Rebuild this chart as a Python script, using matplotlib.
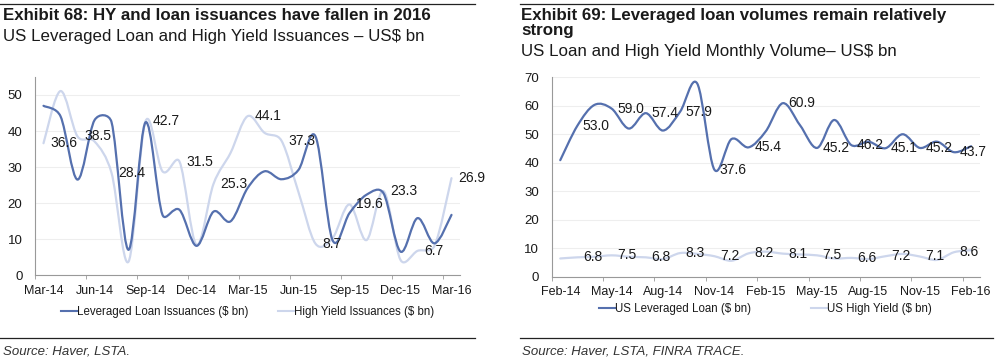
import numpy as np
import matplotlib.pyplot as plt
from matplotlib.path import Path
from matplotlib.patches import PathPatch
from matplotlib.lines import Line2D

plt.rcParams['font.family'] = ['Liberation Sans', 'DejaVu Sans']

DARK = '#5570ae'
LIGHT = '#cdd6ec'
TXT = '#1a1a1a'

# Exhibit 68 (monthly, Mar-14 .. Mar-16)
ticks68 = ['Mar-14', 'Jun-14', 'Sep-14', 'Dec-14', 'Mar-15', 'Jun-15', 'Sep-15', 'Dec-15', 'Mar-16']
loan68 = [47.0, 44.1, 26.5, 43.0, 42.5, 7.0, 42.4, 16.7, 18.1, 8.1, 17.6, 14.9, 24.1,
          28.8, 26.6, 29.2, 38.5, 9.7, 17.2, 22.3, 22.7, 6.5, 15.8, 8.8, 16.7]
hy68 = [36.6, 51.1, 38.5, 37.1, 28.4, 3.7, 42.7, 28.8, 31.5, 8.4, 25.3, 33.9, 44.1,
        39.5, 37.3, 23.0, 8.7, 10.2, 19.6, 9.7, 23.3, 4.2, 6.7, 8.1, 26.9]

# Exhibit 69 (monthly, Feb-14 .. Feb-16)
ticks69 = ['Feb-14', 'May-14', 'Aug-14', 'Nov-14', 'Feb-15', 'May-15', 'Aug-15', 'Nov-15', 'Feb-16']
loan69 = [40.9, 53.0, 60.3, 59.0, 52.0, 57.4, 51.3, 57.9, 67.8, 37.6, 48.3, 45.4, 51.0,
          60.9, 53.2, 45.2, 55.0, 46.2, 47.4, 45.1, 50.0, 45.2, 47.4, 43.7, 45.8]
hy69 = [6.4, 6.8, 7.0, 7.5, 7.0, 6.8, 6.2, 8.3, 8.0, 7.2, 5.6, 8.2, 8.8,
        8.1, 7.8, 7.5, 6.4, 6.6, 6.2, 7.2, 8.0, 7.1, 5.9, 8.6, 9.3]


def smooth_line(ax, y, color, lw):
    # Excel-style smoothed line: cubic Bezier segments through the points,
    # control arms built in screen space and capped so steep neighbours don't overshoot
    y = np.asarray(y, float)
    x = np.arange(len(y), dtype=float)
    tr = ax.transData
    p = tr.transform(np.column_stack([x, y]))
    n = len(p)
    verts = [p[0]]
    codes = [Path.MOVETO]
    for i in range(n - 1):
        p0 = p[i - 1] if i > 0 else p[i]
        p3 = p[i + 2] if i + 2 < n else p[i + 1]
        seg = np.hypot(*(p[i + 1] - p[i]))
        a1 = (p[i + 1] - p0) / 6.0
        a2 = (p3 - p[i]) / 6.0
        for a in (a1, a2):
            la = np.hypot(*a)
            if la > 0.5 * seg:
                a *= 0.5 * seg / la
        verts += [p[i] + a1, p[i + 1] - a2, p[i + 1]]
        codes += [Path.CURVE4] * 3
    verts = tr.inverted().transform(np.array(verts))
    ax.add_patch(PathPatch(Path(verts, codes), fc='none', ec=color, lw=lw,
                           capstyle='round', joinstyle='round'))


def style_axes(ax, ymax, ystep, ticks):
    n = 25
    ax.set_xlim(-0.5, n - 0.5)
    ax.set_ylim(0, ymax)
    ax.set_yticks(np.arange(0, ymax + 1, ystep))
    ax.set_xticks(np.arange(0, n, 3))
    ax.set_xticklabels(ticks)
    ax.set_xticks(np.arange(-0.5, n, 3), minor=True)
    ax.tick_params(axis='x', which='major', length=0, pad=7, labelsize=9, labelcolor=TXT)
    ax.tick_params(axis='x', which='minor', length=3, color='#999999', direction='out')
    ax.tick_params(axis='y', length=0, pad=9, labelsize=9.5, labelcolor=TXT)
    for s in ['top', 'right']:
        ax.spines[s].set_visible(False)
    for s in ['left', 'bottom']:
        ax.spines[s].set_color('#999999')
        ax.spines[s].set_linewidth(0.8)
    ax.grid(axis='y', color='#eeeeee', lw=0.8)
    ax.set_axisbelow(True)


fig = plt.figure(figsize=(10, 3.62), dpi=100)

# ---- left chart
ax1 = fig.add_axes([0.035, 0.2403, 0.425, 0.547])
style_axes(ax1, 55, 10, ticks68)
smooth_line(ax1, hy68, LIGHT, 1.6)
smooth_line(ax1, loan68, DARK, 1.6)
for i in range(0, 25, 2):
    ax1.annotate(f'{hy68[i]:.1f}', (i, hy68[i]), xytext=(5, 0), textcoords='offset points',
                 ha='left', va='center', fontsize=10, color=TXT)

h1 = [Line2D([], [], color=DARK, lw=1.5), Line2D([], [], color=LIGHT, lw=1.5)]
ax1.legend(h1, ['Leveraged Loan Issuances ($ bn)', 'High Yield Issuances ($ bn)'],
           loc='upper center', bbox_to_anchor=(0.5, -0.105), ncol=2, frameon=False,
           handlelength=1.4, handletextpad=0.0, columnspacing=2.6, fontsize=8.3,
           labelcolor=TXT)

# ---- right chart
ax2 = fig.add_axes([0.5517, 0.2356, 0.428, 0.551])
style_axes(ax2, 70, 10, ticks69)
smooth_line(ax2, hy69, LIGHT, 1.6)
smooth_line(ax2, loan69, DARK, 1.6)
for i in range(1, 25, 2):
    ax2.annotate(f'{loan69[i]:.1f}', (i, loan69[i]), xytext=(4, 0), textcoords='offset points',
                 ha='left', va='center', fontsize=10, color=TXT)
    ax2.annotate(f'{hy69[i]:.1f}', (i, hy69[i]), xytext=(4, 0), textcoords='offset points',
                 ha='left', va='center', fontsize=10, color=TXT)

h2 = [Line2D([], [], color=DARK, lw=1.5), Line2D([], [], color=LIGHT, lw=1.5)]
ax2.legend(h2, ['US Leveraged Loan ($ bn)', 'US High Yield ($ bn)'],
           loc='upper center', bbox_to_anchor=(0.5, -0.08), ncol=2, frameon=False,
           handlelength=1.4, handletextpad=0.0, columnspacing=5.2, fontsize=8.3,
           labelcolor=TXT)

# ---- titles, rules, sources
def px(x, y):
    return x / 1000, 1 - y / 362

fig.add_artist(Line2D([0.0, 0.475], [1 - 4 / 362] * 2, color='#222222', lw=0.9))
fig.add_artist(Line2D([0.52, 0.993], [1 - 4 / 362] * 2, color='#222222', lw=0.9))
fig.add_artist(Line2D([0.0, 0.475], [1 - 338 / 362] * 2, color='#222222', lw=0.9))
fig.add_artist(Line2D([0.52, 0.993], [1 - 338 / 362] * 2, color='#222222', lw=0.9))

fig.text(*px(3, 20), 'Exhibit 68: HY and loan issuances have fallen in 2016',
         fontsize=12.2, fontweight='bold', color=TXT, va='baseline')
fig.text(*px(3, 41), 'US Leveraged Loan and High Yield Issuances \u2013 US$ bn',
         fontsize=12.2, color=TXT, va='baseline')
fig.text(*px(521, 20), 'Exhibit 69: Leveraged loan volumes remain relatively',
         fontsize=12.2, fontweight='bold', color=TXT, va='baseline')
fig.text(*px(521, 35), 'strong', fontsize=12.2, fontweight='bold', color=TXT, va='baseline')
fig.text(*px(521, 56), 'US Loan and High Yield Monthly Volume\u2013 US$ bn',
         fontsize=12.2, color=TXT, va='baseline')

fig.text(*px(3, 354), 'Source: Haver, LSTA.', fontsize=9.5, style='italic', color='#333333',
         va='baseline')
fig.text(*px(522, 354), 'Source: Haver, LSTA, FINRA TRACE.', fontsize=9.5, style='italic',
         color='#333333', va='baseline')

fig.savefig('out.png', dpi=100, facecolor='white')
